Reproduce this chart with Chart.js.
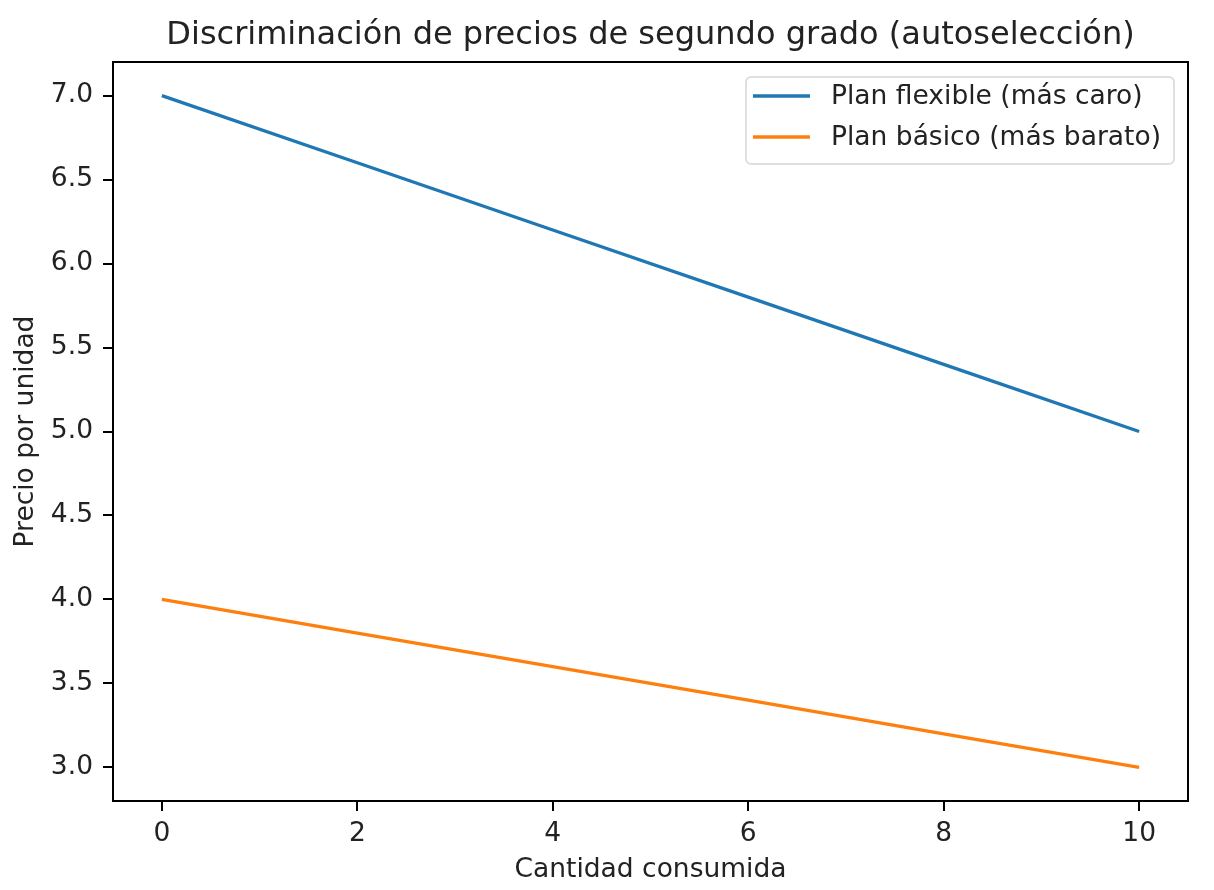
<!DOCTYPE html>
<html>
<head>
<meta charset="utf-8">
<title>Discriminación de precios</title>
<script src="https://cdn.jsdelivr.net/npm/chart.js@4/dist/chart.umd.min.js"></script>
<style>
  html, body { margin: 0; padding: 0; background: #fff; }
  #wrap { width: 1214px; height: 890px; }
</style>
</head>
<body>
<div id="wrap"><canvas id="chart"></canvas></div>
<script>
// datos
const cantidad = [0, 2, 4, 6, 8, 10];
const planFlexible = [7.0, 6.6, 6.2, 5.8, 5.4, 5.0];
const planBasico = [4.0, 3.8, 3.6, 3.4, 3.2, 3.0];
const xTicks = [0, 2, 4, 6, 8, 10];
const yTicks = [3.0, 3.5, 4.0, 4.5, 5.0, 5.5, 6.0, 6.5, 7.0];

const titulo = "Discriminación de precios de segundo grado (autoselección)";
const FONT = "DejaVu Sans";
const TEXT = "#222";

function toPoints(xs, ys) {
  return xs.map((x, i) => ({ x: x, y: ys[i] }));
}

// marco completo + titulo centrado sobre el area
const framePlugin = {
  id: "frame",
  afterDatasetsDraw(chart) {
    const a = chart.chartArea;
    const ctx = chart.ctx;
    ctx.save();
    ctx.strokeStyle = "#000";
    ctx.lineWidth = 2;
    ctx.strokeRect(a.left, a.top, a.right - a.left, a.bottom - a.top);

    ctx.fillStyle = TEXT;
    ctx.font = "32px '" + FONT + "'";
    ctx.textAlign = "center";
    ctx.textBaseline = "alphabetic";
    ctx.fillText(titulo, (a.left + a.right) / 2, 44);
    ctx.restore();
  }
};

// leyenda dentro del area, arriba a la derecha (como matplotlib)
const legendBox = {
  id: "legendBox",
  afterDraw(chart) {
    const ctx = chart.ctx;
    const a = chart.chartArea;
    const sets = chart.data.datasets;
    ctx.save();
    ctx.font = "26.5px '" + FONT + "'";
    let maxW = 0;
    sets.forEach(ds => { maxW = Math.max(maxW, ctx.measureText(ds.label).width); });
    const padL = 7, handle = 57, gap = 21, padR = 13;
    const w = padL + handle + gap + maxW + padR;
    const h = 87;
    const right = a.right - 14;
    const top = a.top + 15;
    const left = right - w;

    ctx.beginPath();
    ctx.roundRect(left, top, w, h, 5);
    ctx.fillStyle = "rgba(255,255,255,0.8)";
    ctx.fill();
    ctx.strokeStyle = "#d6d6d6";
    ctx.lineWidth = 1.5;
    ctx.stroke();

    sets.forEach((ds, i) => {
      const y = top + 19 + i * 41;
      ctx.beginPath();
      ctx.moveTo(left + padL, y);
      ctx.lineTo(left + padL + handle, y);
      ctx.strokeStyle = ds.borderColor;
      ctx.lineWidth = 3.3;
      ctx.stroke();
      ctx.fillStyle = TEXT;
      ctx.textAlign = "left";
      ctx.textBaseline = "middle";
      ctx.fillText(ds.label, left + padL + handle + gap, y + 1);
    });
    ctx.restore();
  }
};

const ctx = document.getElementById("chart");
const grafico = new Chart(ctx, {
  type: "line",
  data: {
    datasets: [
      {
        label: "Plan flexible (más caro)",
        data: toPoints(cantidad, planFlexible),
        borderColor: "#1f77b4",
        backgroundColor: "#1f77b4",
        borderWidth: 3.3,
        pointRadius: 0,
        tension: 0
      },
      {
        label: "Plan básico (más barato)",
        data: toPoints(cantidad, planBasico),
        borderColor: "#ff7f0e",
        backgroundColor: "#ff7f0e",
        borderWidth: 3.3,
        pointRadius: 0,
        tension: 0
      }
    ]
  },
  options: {
    responsive: true,
    maintainAspectRatio: false,
    animation: false,
    layout: { padding: { left: 0, right: 26, top: 62, bottom: 0 } },
    plugins: {
      legend: { display: false },
      tooltip: { enabled: false },
      title: { display: false }
    },
    scales: {
      x: {
        type: "linear",
        min: -0.5,
        max: 10.5,
        afterBuildTicks: s => { s.ticks = xTicks.map(v => ({ value: v })); },
        afterFit: s => { s.height = 89; },
        border: { display: false },
        grid: { drawOnChartArea: false, drawTicks: true, tickLength: 10, color: "#000", lineWidth: 2 },
        ticks: {
          color: TEXT,
          padding: 7,
          maxRotation: 0,
          font: { family: FONT, size: 26.5 },
          callback: v => String(v)
        },
        title: {
          display: true,
          text: "Cantidad consumida",
          color: TEXT,
          font: { family: FONT, size: 26.5 },
          padding: { top: 0, bottom: 4 }
        }
      },
      y: {
        min: 2.8,
        max: 7.2,
        afterBuildTicks: s => { s.ticks = yTicks.map(v => ({ value: v })); },
        afterFit: s => { s.width = 113; },
        border: { display: false },
        grid: { drawOnChartArea: false, drawTicks: true, tickLength: 10, color: "#000", lineWidth: 2 },
        ticks: {
          color: TEXT,
          padding: 10,
          font: { family: FONT, size: 26.5 },
          callback: v => Number(v).toFixed(1)
        },
        title: {
          display: true,
          text: "Precio por unidad",
          color: TEXT,
          font: { family: FONT, size: 26.5 },
          padding: { top: 10, bottom: 0 }
        }
      }
    }
  },
  plugins: [framePlugin, legendBox]
});
</script>
</body>
</html>
